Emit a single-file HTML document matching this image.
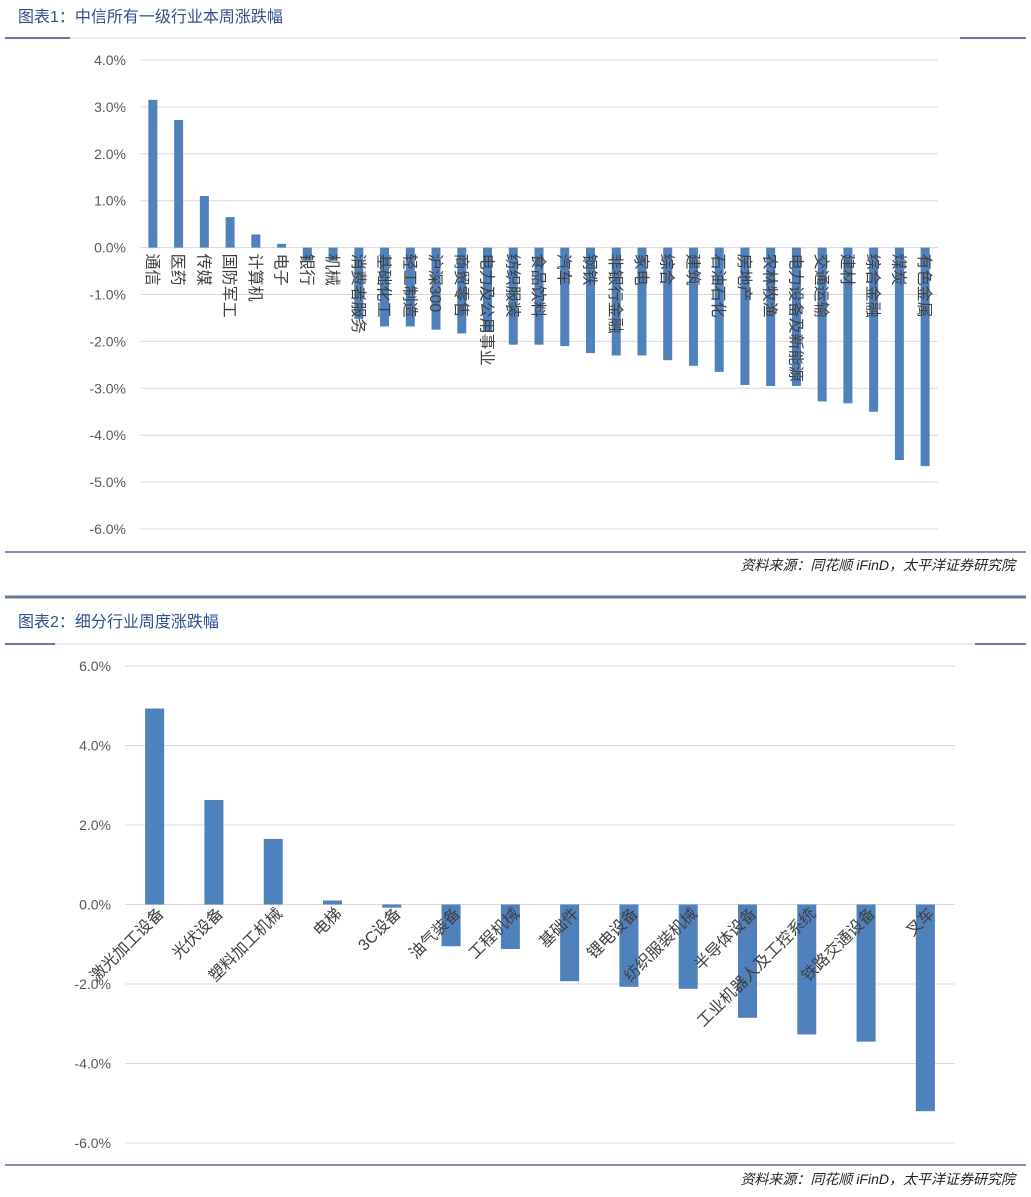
<!DOCTYPE html>
<html><head><meta charset="utf-8"><style>
body{margin:0;background:#fff;}
svg text{font-family:"Liberation Sans","Noto Sans CJK SC",sans-serif;}
</style></head><body>
<svg id="s" width="1031" height="1192" xmlns="http://www.w3.org/2000/svg">
<text x="18" y="22" font-size="16" fill="#2f4f8f">图表1：中信所有一级行业本周涨跌幅</text>
<line x1="5" y1="38" x2="70" y2="38" stroke="#3b4a8a" stroke-width="1.5"/>
<line x1="70" y1="38" x2="960" y2="38" stroke="#ccc" stroke-width="0.8"/>
<line x1="960" y1="38" x2="1026" y2="38" stroke="#3b4a8a" stroke-width="1.5"/>
<line x1="5" y1="552" x2="1026" y2="552" stroke="#3b4a8a" stroke-width="1.2"/>
<text x="1015" y="570" font-size="14" font-style="italic" text-anchor="end" fill="#222">资料来源：同花顺 iFinD，太平洋证券研究院</text>
<line x1="5" y1="597" x2="1026" y2="597" stroke="#6a7a9a" stroke-width="3"/>
<text x="18" y="627" font-size="16" fill="#2f4f8f">图表2：细分行业周度涨跌幅</text>
<line x1="5" y1="644" x2="55" y2="644" stroke="#3b4a8a" stroke-width="1.5"/>
<line x1="55" y1="644" x2="975" y2="644" stroke="#ccc" stroke-width="0.8"/>
<line x1="975" y1="644" x2="1026" y2="644" stroke="#3b4a8a" stroke-width="1.5"/>
<line x1="5" y1="1165" x2="1026" y2="1165" stroke="#3b4a8a" stroke-width="1.2"/>
<text x="1015" y="1184" font-size="14" font-style="italic" text-anchor="end" fill="#222">资料来源：同花顺 iFinD，太平洋证券研究院</text>
<g id="c1"></g>
<g id="c2"></g>
</svg>
<script>
const cats1=["通信","医药","传媒","国防军工","计算机","电子","银行","机械","消费者服务","基础化工","轻工制造","沪深300","商贸零售","电力及公用事业","纺织服装","食品饮料","汽车","钢铁","非银行金融","家电","综合","建筑","石油石化","房地产","农林牧渔","电力设备及新能源","交通运输","建材","综合金融","煤炭","有色金属"];
const vals1=[3.15,2.72,1.1,0.65,0.28,0.08,-0.28,-0.28,-1.52,-1.68,-1.68,-1.75,-1.83,-1.8,-2.07,-2.07,-2.1,-2.25,-2.3,-2.3,-2.4,-2.52,-2.65,-2.93,-2.95,-2.95,-3.28,-3.32,-3.5,-4.53,-4.66];
const ticks1=[4,3,2,1,0,-1,-2,-3,-4,-5,-6];
const cats2=["激光加工设备","光伏设备","塑料加工机械","电梯","3C设备","油气装备","工程机械","基础件","锂电设备","纺织服装机械","半导体设备","工业机器人及工控系统","铁路交通设备","叉车"];
const vals2=[4.93,2.63,1.65,0.1,-0.08,-1.05,-1.12,-1.93,-2.07,-2.12,-2.85,-3.27,-3.45,-5.2];
const ticks2=[6,4,2,0,-2,-4,-6];
const NS="http://www.w3.org/2000/svg";
function mk(p,t,a,txt){const e=document.createElementNS(NS,t);for(const k in a)e.setAttribute(k,a[k]);if(txt!=null)e.textContent=txt;p.appendChild(e);return e;}
function chart(g,cats,vals,ticks,cfg){
 const y=v=>cfg.y0-(v-ticks[0])*(cfg.y1-cfg.y0)/(ticks[ticks.length-1]-ticks[0])*-1*-1;
 const sy=v=>cfg.y0+(ticks[0]-v)/(ticks[0]-ticks[ticks.length-1])*(cfg.y1-cfg.y0);
 ticks.forEach(t=>{
  const l=mk(g,'line',{x1:cfg.x0,x2:cfg.x1,y1:sy(t),y2:sy(t),stroke:'#d9d9d9','stroke-width':1});
  
  
  const tx=mk(g,'text',{x:cfg.x0-14,y:sy(t)+5,'text-anchor':'end','font-size':14,fill:'#595959'},t.toFixed(1)+'%');
  
  
 });
 const n=cats.length,step=(cfg.x1-cfg.x0)/n;
 cats.forEach((c,i)=>{
  const cx=cfg.x0+step*(i+0.5),v=vals[i];
  const top=sy(Math.max(v,0)),bot=sy(Math.min(v,0));
  const r=mk(g,'rect',{x:cx-cfg.bw/2,y:top,width:cfg.bw,height:Math.max(bot-top,1),fill:'#4f81bd'});
  
  
  let t;
  if(cfg.rot===90){
   t=mk(g,'text',{x:0,y:0,'font-size':cfg.fs,fill:'#404040',transform:`translate(${cx-6},${sy(0)+6}) rotate(90)`},c);
  }else{
   t=mk(g,'text',{x:0,y:0,'font-size':cfg.fs,fill:'#404040','text-anchor':'end',transform:`translate(${cx+10},${sy(0)+10}) rotate(-45)`},c);
  }
  
  
 });
}
chart(document.getElementById('c1'),cats1,vals1,ticks1,{x0:140,x1:938,y0:60,y1:529,bw:9,rot:90,fs:16});
chart(document.getElementById('c2'),cats2,vals2,ticks2,{x0:125,x1:955,y0:666,y1:1143,bw:19,rot:-45,fs:16});
</script>
</body></html>
